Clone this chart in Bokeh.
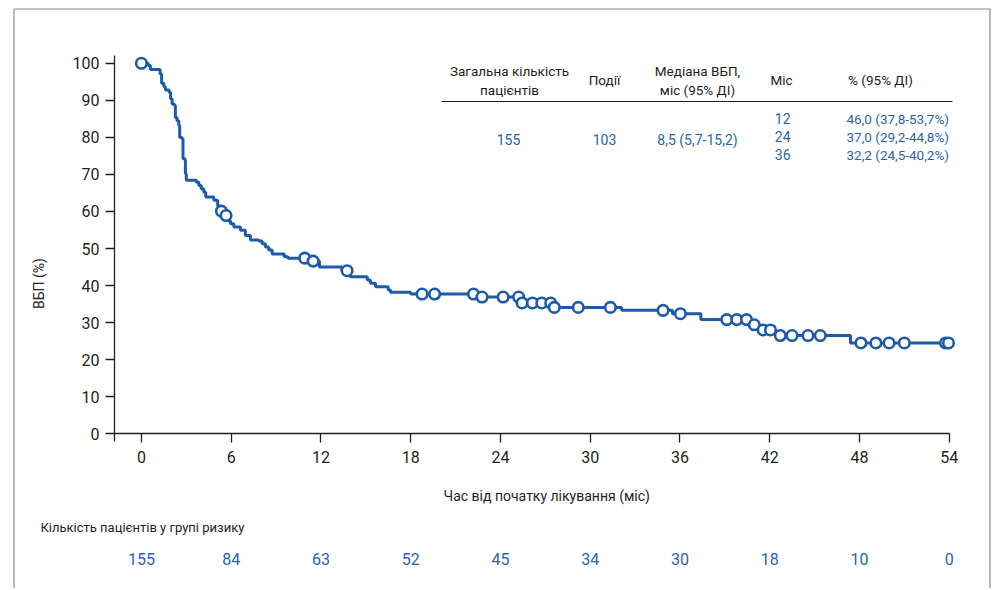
import numpy as np
from bokeh.plotting import figure
from bokeh.models import Label, LabelSet, ColumnDataSource, FixedTicker, Range1d
from bokeh.core.properties import value
from bokeh.embed import file_html
from bokeh.resources import INLINE

# ---------------- data ----------------
# Kaplan-Meier step curve (time in months, PFS %)
km_time = [0.0, 0.45, 0.6, 1.25, 1.35, 1.5, 1.6, 1.85, 1.95, 2.05, 2.2, 2.27, 2.38,
           2.5, 2.56, 2.72, 2.78, 2.92, 2.94, 3.0, 3.68, 3.84, 4.0, 4.17, 4.3, 4.84,
           5.1, 5.3, 5.5, 5.85, 5.95, 6.18, 6.62, 6.95, 7.29, 7.85, 8.07, 8.29, 8.51,
           8.74, 9.55, 9.8, 11.3, 11.9, 13.4, 13.95, 15.1, 15.3, 15.65, 16.5, 16.65,
           18.0, 22.4, 25.35, 27.5, 32.1, 35.5, 37.4, 40.8, 41.3, 42.4, 47.4, 53.95]
km_surv = [100.0, 99.4, 98.3, 97.1, 94.6, 93.7, 92.8, 92.2, 90.4, 89.0, 88.6, 85.4, 84.5,
           83.2, 80.0, 79.6, 74.2, 73.8, 70.2, 68.4, 67.9, 67.0, 66.1, 65.2, 63.9, 63.0,
           61.5, 60.1, 58.9, 57.5, 56.7, 55.8, 54.9, 53.5, 52.3, 52.0, 51.3, 50.4, 49.6,
           48.5, 47.8, 47.4, 46.6, 45.0, 44.0, 42.4, 41.5, 40.6, 39.7, 38.8, 38.2,
           37.7, 36.9, 35.3, 34.1, 33.3, 32.4, 30.8, 29.4, 28.0, 26.5, 24.5, 24.5]
# censored observations (months)
censor_time = [0.0, 5.35, 5.66, 10.92, 11.48, 13.75, 18.76, 19.6, 22.2, 22.77, 24.18,
               25.22, 25.45, 26.14, 26.76, 27.36, 27.6, 29.2, 31.35, 34.87, 36.03, 39.13,
               39.8, 40.45, 40.97, 41.56, 42.05, 42.71, 43.49, 44.56, 45.38, 48.1, 49.1,
               49.98, 51.0, 53.75, 53.95]

x_ticks = [0, 6, 12, 18, 24, 30, 36, 42, 48, 54]
y_ticks = [0, 10, 20, 30, 40, 50, 60, 70, 80, 90, 100]

risk_times = [0, 6, 12, 18, 24, 30, 36, 42, 48, 54]
risk_counts = [155, 84, 63, 52, 45, 34, 30, 18, 10, 0]

total_patients = "155"
events = "103"
median_pfs = "8,5 (5,7-15,2)"
landmark_months = ["12", "24", "36"]
landmark_pct = ["46,0 (37,8-53,7%)", "37,0 (29,2-44,8%)", "32,2 (24,5-40,2%)"]

x_title = "Час від початку лікування  (міс)"
y_title = "ВБП (%)"
risk_title = "Кількість пацієнтів у групі ризику"
hdr_total = ["Загальна кількість", "пацієнтів"]
hdr_events = "Події"
hdr_median = ["Медіана ВБП,", "міс (95% ДІ)"]
hdr_month = "Міс"
hdr_pct = "% (95% ДІ)"

# ---------------- style ----------------
BLUE = "#1b5ba8"
TBLUE = "#2a64ae"
INK = "#231f20"
FONT = "Roboto"

W, H = 996, 588
PX_PER_MONTH = 14.96
PX_PER_PCT = 3.704
X0_PX, Y0_PX = 140.9, 433.2          # pixel position of (0 months, 0 %)


def tx(px):
    return (px - X0_PX) / PX_PER_MONTH


def sy(py):
    return (Y0_PX - py) / PX_PER_PCT


p = figure(width=W, height=H,
           x_range=Range1d(tx(0), tx(W)), y_range=Range1d(sy(H), sy(0)),
           output_backend="svg", toolbar_location=None, title=None, min_border=0)
p.background_fill_color = "white"
p.border_fill_color = "white"
p.outline_line_color = None
p.xgrid.visible = False
p.ygrid.visible = False

# axes drawn inside the frame at fixed locations
p.xaxis.fixed_location = 0
p.xaxis.bounds = (-1.8, 54)
p.xaxis.ticker = FixedTicker(ticks=x_ticks)
p.yaxis.fixed_location = -1.8
p.yaxis.bounds = (-2.1, 102.1)
p.yaxis.ticker = FixedTicker(ticks=y_ticks)
for ax in (p.xaxis, p.yaxis):
    ax.axis_line_color = INK
    ax.axis_line_width = 1.3
    ax.major_tick_line_color = INK
    ax.major_tick_line_width = 1.3
    ax.major_tick_out = 9
    ax.major_tick_in = 0
    ax.minor_tick_line_color = None
    ax.major_label_text_font = FONT
    ax.major_label_text_font_size = "16px"
    ax.major_label_text_color = INK
p.xaxis.major_label_standoff = 8
p.yaxis.major_label_standoff = 6

# outer frame (left, top, right edges)
p.line([tx(13.5), tx(13.5), tx(989.5), tx(989.5)],
       [sy(H + 20), sy(8.5), sy(8.5), sy(H + 20)],
       line_color="#8a8a8a", line_width=1.2)

# curve
p.step(km_time, km_surv, mode="after", line_color=BLUE, line_width=3.0)
kt = np.array(km_time)
ks = np.array(km_surv)
censor_surv = ks[np.searchsorted(kt, np.array(censor_time), side="right") - 1]
p.scatter(censor_time, censor_surv, marker="circle", size=10.5,
          fill_color="white", line_color=BLUE, line_width=2.6)


def lab(x, y, text, color=INK, size="13.5px", align="center", angle=0.0):
    p.add_layout(Label(x=x, y=y, text=text, text_align=align,
                       text_baseline="middle", text_font=FONT,
                       text_font_size=size, text_color=color, angle=angle))


# summary table
lab(tx(509), sy(70), hdr_total[0])
lab(tx(509), sy(89), hdr_total[1])
lab(tx(604), sy(79), hdr_events)
lab(tx(697), sy(70), hdr_median[0])
lab(tx(697), sy(89), hdr_median[1])
lab(tx(781), sy(79), hdr_month)
lab(tx(880), sy(79), hdr_pct)
p.segment(x0=[tx(441)], y0=[sy(101)], x1=[tx(952)], y1=[sy(101)],
          line_color=INK, line_width=1.2)
lab(tx(508), sy(139), total_patients, TBLUE, "14px")
lab(tx(604), sy(139), events, TBLUE, "14px")
lab(tx(697), sy(139), median_pfs, TBLUE, "14px")
for i, (m, pc) in enumerate(zip(landmark_months, landmark_pct)):
    yy = sy(118 + 18 * i)
    lab(tx(790), yy, m, TBLUE, "14px", "right")
    lab(tx(846), yy, pc, TBLUE, "13.5px", "left")

# axis titles
lab(tx(548), sy(495), x_title, INK, "14px")
lab(tx(38), sy(283), y_title, INK, "14px", "center", np.pi / 2)

# risk table
lab(tx(40), sy(527), risk_title, INK, "13px", "left")
risk_src = ColumnDataSource(dict(x=risk_times, y=[sy(558)] * len(risk_times),
                                 t=[str(c) for c in risk_counts]))
p.add_layout(LabelSet(x="x", y="y", text="t", source=risk_src,
                      text_align="center", text_baseline="middle",
                      text_font=value(FONT), text_font_size=value("16px"),
                      text_color=TBLUE))

open("out.html", "w").write(file_html(p, INLINE))
